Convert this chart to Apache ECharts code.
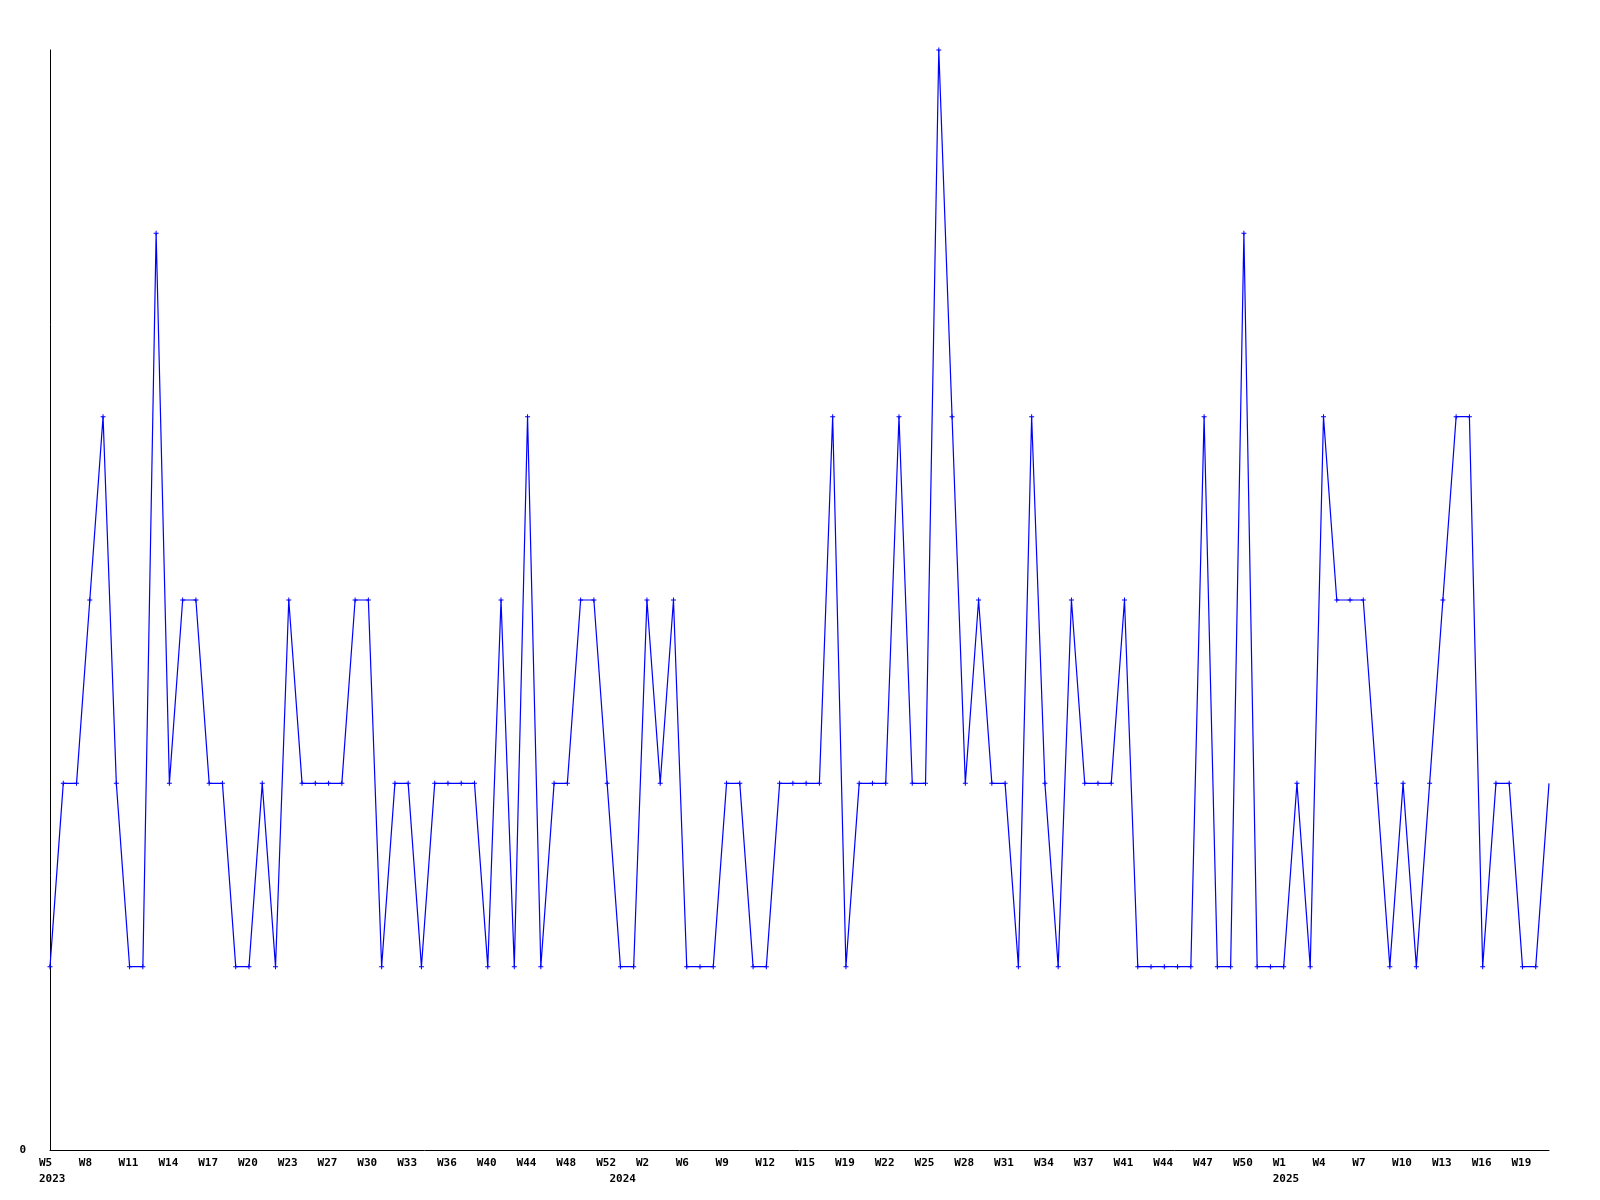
<!DOCTYPE html>
<html>
<head>
<meta charset="utf-8">
<script src="https://cdn.jsdelivr.net/npm/echarts@6/dist/echarts.min.js"></script>
<style>
html,body{margin:0;padding:0;background:#fff;}
#chart{width:1600px;height:1200px;}
</style>
</head>
<body>
<div id="chart"></div>
<script>
// Weekly values (one per category slot)
const values = [
  1,2,2,3,4,2,1,1,5,2,3,3,2,2,1,1,2,1,3,2,2,2,2,3,3,1,2,2,1,2,2,2,2,1,3,1,4,1,2,2,
  3,3,2,1,1,3,2,3,1,1,1,2,2,1,1,2,2,2,2,4,1,2,2,2,4,2,2,6,4,2,3,2,2,1,4,2,1,3,2,2,
  2,3,1,1,1,1,1,4,1,1,5,1,1,1,2,1,4,3,3,3,2,1,2,1,2,3,4,4,1,2,2,1,1,2
];
// Tick labels shown on every third slot
const tickLabels = [
  'W5','W8','W11','W14','W17','W20','W23','W27','W30','W33','W36','W40','W44','W48','W52',
  'W2','W6','W9','W12','W15','W19','W22','W25','W28','W31','W34','W37','W41','W44','W47','W50',
  'W1','W4','W7','W10','W13','W16','W19'
];
// Year labels and the slot they sit under
const yearNames = ['2023','2024','2025'];
const yearSlots = [0, 43, 93];
const yMin = 0, yMax = 6;

const categories = values.map((_, i) => String(i));
const lastIdx = values.length - 1;
const seriesData = values.map((v, i) => i === lastIdx ? {value: v, symbol: 'none'} : v);

const chart = echarts.init(document.getElementById('chart'), null, {renderer:'canvas'});
const font = '"DejaVu Sans Mono", monospace';
chart.setOption({
  animation: false,
  backgroundColor: '#ffffff',
  grid: {left: 50, right: 51, top: 50, bottom: 50, containLabel: false},
  xAxis: {
    type: 'category',
    data: categories,
    boundaryGap: false,
    axisLine: {show: true, lineStyle: {color: '#000', width: 1}},
    axisTick: {show: false},
    splitLine: {show: false},
    axisLabel: {
      show: true,
      margin: 5,
      width: 22,
      align: 'center',
      interval: function (idx) { return idx % 3 === 0 || yearSlots.indexOf(idx) >= 0; },
      formatter: function (val, idx) {
        const y = yearSlots.indexOf(idx);
        const w = (idx % 3 === 0) ? tickLabels[idx / 3] : ' ';
        let s = '{a|' + w + '}';
        if (y >= 0) s += '\n{a|' + yearNames[y] + '}';
        return s;
      },
      rich: {
        a: {fontFamily: font, fontSize: 11, fontWeight: 'bold', color: '#000', lineHeight: 16, align: 'left'}
      }
    }
  },
  yAxis: {
    type: 'value',
    min: yMin,
    max: yMax,
    interval: 1,
    axisLine: {show: true, lineStyle: {color: '#000', width: 1}},
    axisTick: {show: false},
    splitLine: {show: false},
    axisLabel: {
      margin: 24,
      fontFamily: font, fontSize: 11, fontWeight: 'bold', color: '#000',
      formatter: function (v) { return v === 0 ? '0' : ''; }
    }
  },
  series: [{
    type: 'line',
    data: seriesData,
    symbol: 'path://M0,2L5,2L5,3L0,3Z M2,0L3,0L3,5L2,5Z',
    symbolSize: 5,
    showSymbol: true,
    showAllSymbol: true,
    clip: false,
    lineStyle: {color: '#0000ff', width: 1.2},
    itemStyle: {color: '#0000ff'}
  }]
});
</script>
</body>
</html>
